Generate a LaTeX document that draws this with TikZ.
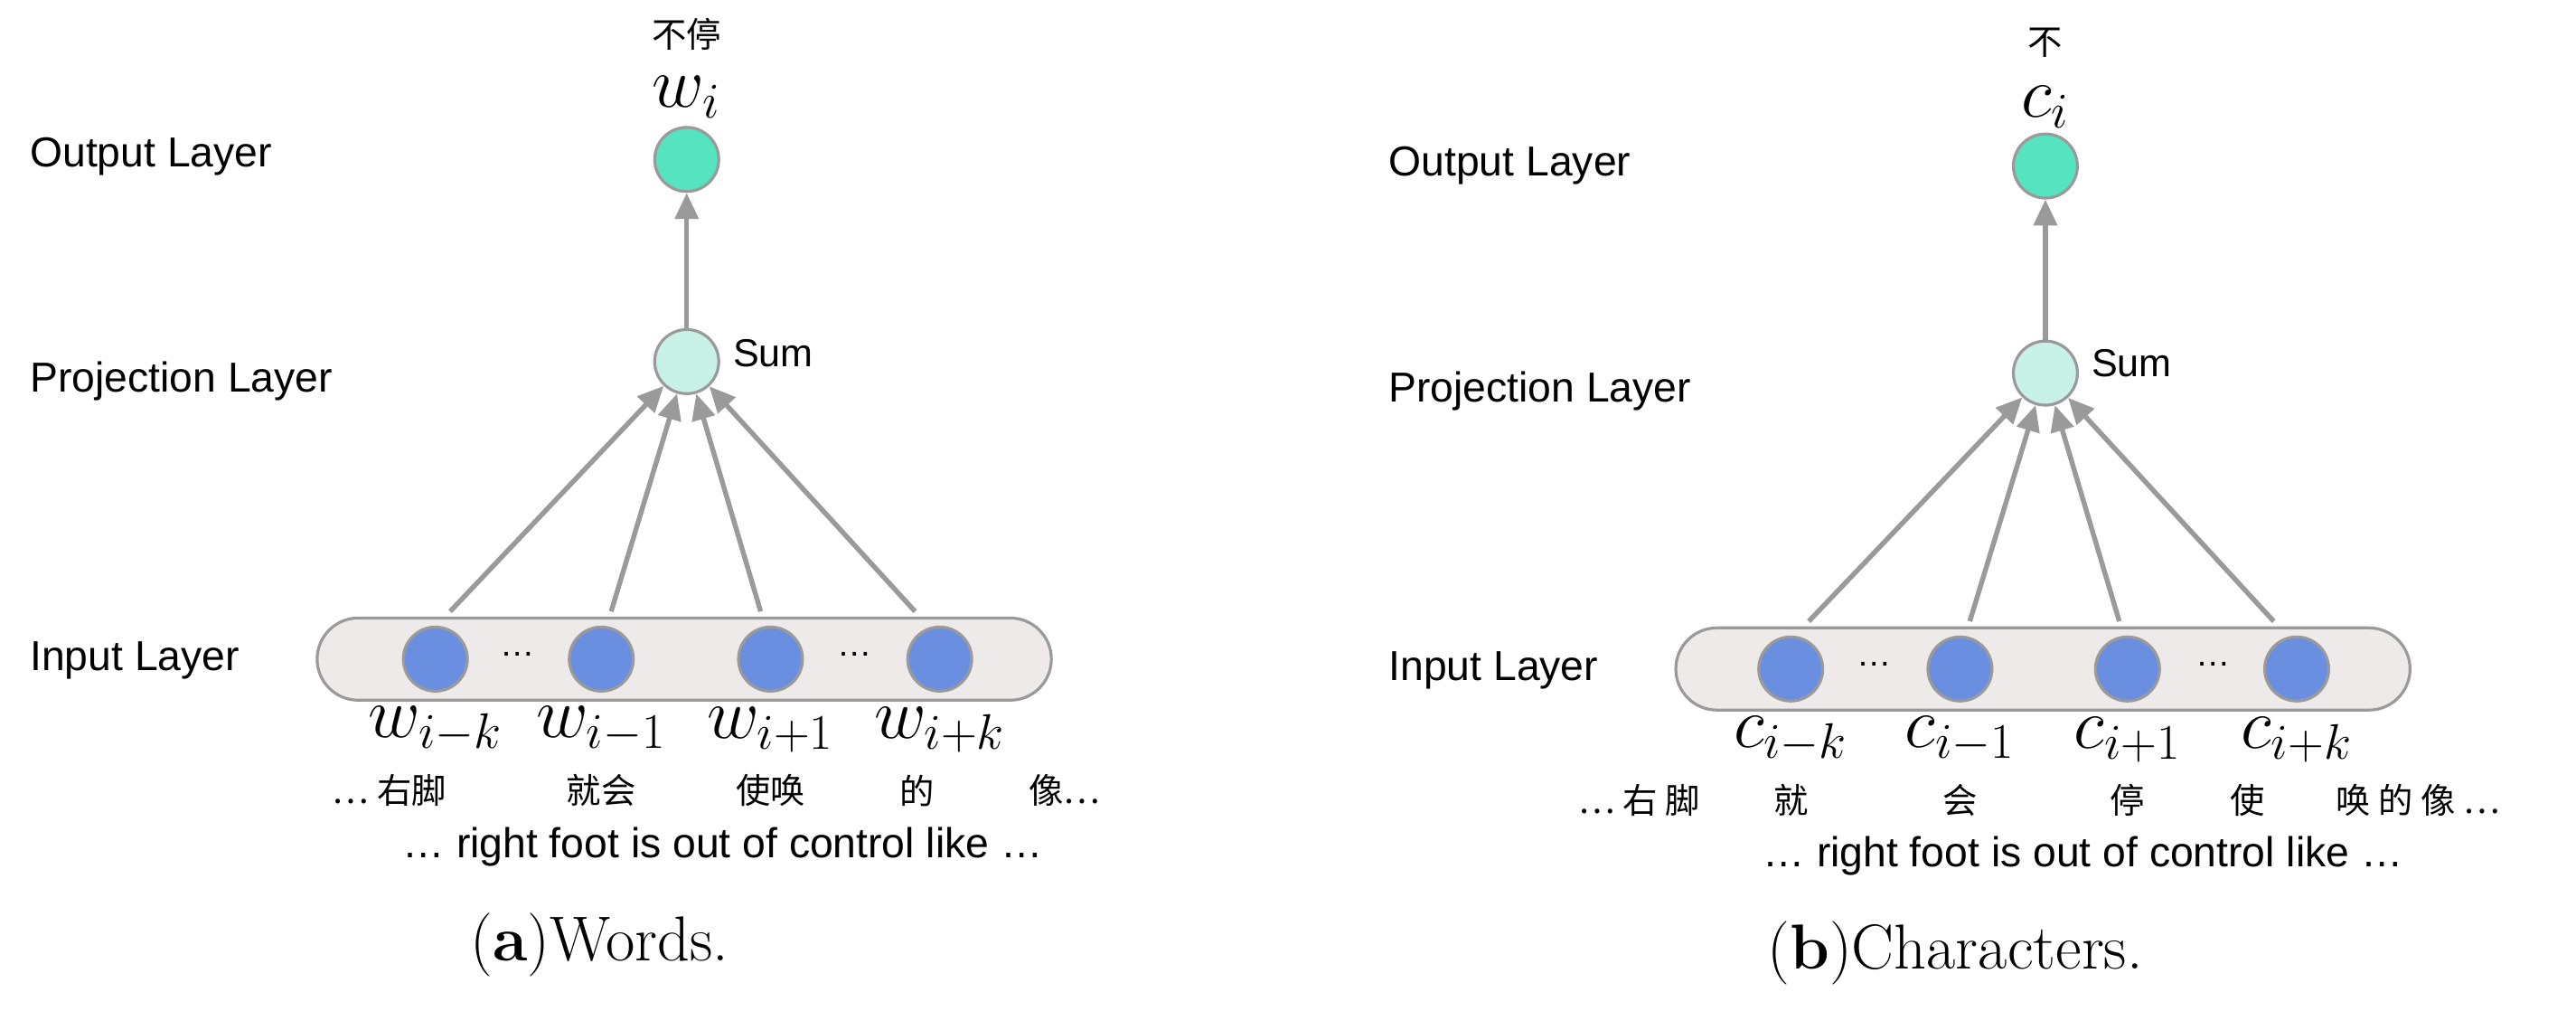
\documentclass[tikz,border=0pt]{standalone}
\usepackage{fontspec}
\setmainfont{Liberation Sans}
\newfontfamily\cjk{Noto Sans CJK SC}
\newfontfamily\capfont{Latin Modern Roman}
\usetikzlibrary{arrows.meta}
\definecolor{outc}{HTML}{55E3C0}
\definecolor{sumc}{HTML}{C8F2E8}
\definecolor{inc}{HTML}{6A8FE0}
\definecolor{barc}{HTML}{EFEAEA}
\definecolor{edgec}{HTML}{9A9A9A}
\tikzset{
  unit/.style={draw=edgec, circle, line width=1pt, minimum size=0.78cm, inner sep=0pt},
  layer/.style={anchor=west, inner sep=0pt, font=\fontsize{14.5}{17}\selectfont},
  sym/.style={font=\fontsize{24}{28}\selectfont, inner sep=0pt},
  zh/.style={font=\cjk\fontsize{12}{14}\selectfont, inner sep=0pt},
  link/.style={draw=edgec, line width=1.7pt, -{Triangle[length=9pt,width=8pt]}},
}
\begin{document}
\begin{tikzpicture}[x=0.02cm, y=-0.02cm]
\useasboundingbox (0,0) rectangle (1568,615);
% words
\node[layer] (ol1) at (18,95) {Output Layer};
\node[layer] (pl1) at (18,232) {Projection Layer};
\node[layer] (il1) at (18,402) {Input Layer};
\node[draw=edgec, fill=barc, line width=1pt, rounded corners=0.5cm, minimum width=8.94cm, minimum height=1cm] (bar1) at (416.5,401) {};
\node[unit, fill=outc] (o1) at (418,97) {};
\node[unit, fill=sumc] (s1) at (418,220) {};
\node[anchor=west, font=\fontsize{13.5}{16}\selectfont] (sum1) at (440,215) {Sum};
\node[zh] (t1) at (418,21) {不停};
\node[sym] (wi) at (418,59) {$w_i$};
\node[unit, fill=inc] (a1) at (265,401) {};
\node[unit, fill=inc] (a2) at (366,401) {};
\node[unit, fill=inc] (a3) at (469,401) {};
\node[unit, fill=inc] (a4) at (572,401) {};
\node[font=\large] (d1) at (315,398) {\dots};
\node[font=\large] (d2) at (520,398) {\dots};
\node[sym] (la1) at (265,444) {$w_{i-k}$};
\node[sym] (la2) at (366,444) {$w_{i-1}$};
\node[sym] (la3) at (469,444) {$w_{i+1}$};
\node[sym] (la4) at (572,444) {$w_{i+k}$};
\node[zh] (z1) at (237,481) {… 右脚};
\node[zh] (z2) at (366,481) {就会};
\node[zh] (z3) at (469,481) {使唤};
\node[zh] (z4) at (558,481) {的};
\node[zh] (z5) at (648,481) {像…};
\node[font=\fontsize{14.5}{17}\selectfont] (en1) at (440,515) {… right foot is out of control like …};
\node[font=\capfont\fontsize{22}{26}\selectfont] (cap1) at (365,575) {(\textbf{a})Words.};
\path[link] (s1) -- (o1);
\path[link] (274,372) -- (s1);
\path[link] (372,372) -- (s1);
\path[link] (463,372) -- (s1);
\path[link] (557,372) -- (s1);
% characters
\node[layer] (ol2) at (845,101) {Output Layer};
\node[layer] (pl2) at (845,238) {Projection Layer};
\node[layer] (il2) at (845,408) {Input Layer};
\node[draw=edgec, fill=barc, line width=1pt, rounded corners=0.5cm, minimum width=8.94cm, minimum height=1cm] (bar2) at (1243.5,407) {};
\node[unit, fill=outc] (o2) at (1245,101) {};
\node[unit, fill=sumc] (s2) at (1245,227) {};
\node[anchor=west, font=\fontsize{13.5}{16}\selectfont] (sum2) at (1267,221) {Sum};
\node[zh] (t2) at (1245,26) {不};
\node[sym] (ci) at (1245,65) {$c_i$};
\node[unit, fill=inc] (b1) at (1090,407) {};
\node[unit, fill=inc] (b2) at (1193,407) {};
\node[unit, fill=inc] (b3) at (1295,407) {};
\node[unit, fill=inc] (b4) at (1398,407) {};
\node[font=\large] (e1) at (1141,404) {\dots};
\node[font=\large] (e2) at (1347,404) {\dots};
\node[sym] (lb1) at (1090,450) {$c_{i-k}$};
\node[sym] (lb2) at (1193,450) {$c_{i-1}$};
\node[sym] (lb3) at (1295,450) {$c_{i+1}$};
\node[sym] (lb4) at (1398,450) {$c_{i+k}$};
\node[zh] (y1) at (998,487) {… 右 脚};
\node[zh] (y2) at (1090,487) {就};
\node[zh] (y3) at (1193,487) {会};
\node[zh] (y4) at (1295,487) {停};
\node[zh] (y5) at (1368,487) {使};
\node[zh] (y6) at (1472,487) {唤 的 像 …};
\node[font=\fontsize{14.5}{17}\selectfont] (en2) at (1268,521) {… right foot is out of control like …};
\node[font=\capfont\fontsize{22}{26}\selectfont] (cap2) at (1190,580) {(\textbf{b})Characters.};
\path[link] (s2) -- (o2);
\path[link] (1101,378) -- (s2);
\path[link] (1199,378) -- (s2);
\path[link] (1290,378) -- (s2);
\path[link] (1384,378) -- (s2);
\end{tikzpicture}
\end{document}
